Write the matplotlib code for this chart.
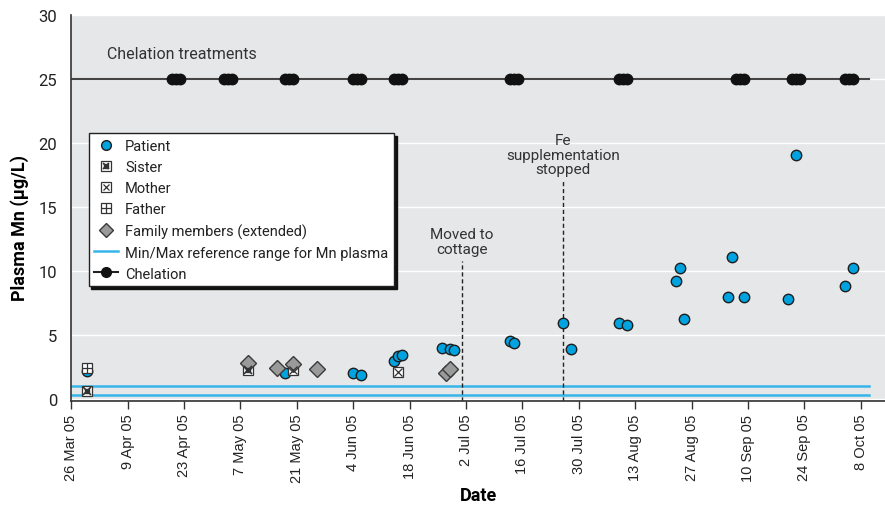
import matplotlib
matplotlib.use("Agg")
import matplotlib.pyplot as plt
import matplotlib.dates as mdates
from matplotlib.lines import Line2D
import pandas as pd

plt.rcParams['font.family'] = ['Roboto', 'DejaVu Sans']

# Patient plasma Mn (ug/L)
patient_dates = ['2005-03-30', '2005-05-18', '2005-06-04', '2005-06-06', '2005-06-14',
                 '2005-06-15', '2005-06-16', '2005-06-26', '2005-06-28', '2005-06-29',
                 '2005-07-13', '2005-07-14', '2005-07-26', '2005-07-28', '2005-08-09',
                 '2005-08-11', '2005-08-23', '2005-08-24', '2005-08-25', '2005-09-05',
                 '2005-09-06', '2005-09-09', '2005-09-20', '2005-09-22', '2005-10-04',
                 '2005-10-06']
patient_vals = [2.2, 2.0, 2.0, 1.9, 3.0, 3.35, 3.4, 3.95, 3.9, 3.8,
                4.55, 4.4, 5.95, 3.9, 5.9, 5.75, 9.2, 10.2, 6.25, 7.95,
                11.1, 7.95, 7.85, 19.1, 8.8, 10.2]

sister_dates = ['2005-03-30', '2005-05-09']
sister_vals = [0.65, 2.3]
mother_dates = ['2005-05-20', '2005-06-15']
mother_vals = [2.3, 2.1]
father_dates = ['2005-03-30']
father_vals = [2.45]
family_dates = ['2005-05-09', '2005-05-16', '2005-05-20', '2005-05-26', '2005-06-27', '2005-06-28']
family_vals = [2.85, 2.45, 2.7, 2.35, 2.05, 2.35]

chelation_dates = ['2005-04-20', '2005-04-21', '2005-04-22', '2005-05-03', '2005-05-04',
                   '2005-05-05', '2005-05-18', '2005-05-19', '2005-05-20', '2005-06-04',
                   '2005-06-05', '2005-06-06', '2005-06-14', '2005-06-15', '2005-06-16',
                   '2005-07-13', '2005-07-14', '2005-07-15', '2005-08-09', '2005-08-10',
                   '2005-08-11', '2005-09-07', '2005-09-08', '2005-09-09', '2005-09-21',
                   '2005-09-22', '2005-09-23', '2005-10-04', '2005-10-05', '2005-10-06']
chelation_level = 25

ref_min, ref_max = 0.3, 1.0
line_span = ['2005-03-26', '2005-10-10']

events = ['2005-07-01', '2005-07-26']
event_labels = ['Moved to\ncottage', 'Fe\nsupplementation\nstopped']
event_tops = [10.8, 17.0]

tick_dates = pd.date_range('2005-03-26', '2005-10-08', freq='14D')

d = lambda s: pd.to_datetime(s)

blue = '#00a3e0'
refblue = '#36b5e8'
edge = '#1e1e1e'

fig = plt.figure(figsize=(8.85, 5.06), dpi=100)
ax = fig.add_axes([0.0805, 0.2055, 0.9195, 0.7627])
ax.set_facecolor('#e6e7e8')

# reference range and chelation line
span = d(line_span)
ax.plot(span, [ref_max] * 2, color=refblue, lw=1.8, zorder=2)
ax.plot(span, [ref_min] * 2, color=refblue, lw=1.8, zorder=2)
ax.plot(span, [chelation_level] * 2, color='#444444', lw=1.5, zorder=2)
ax.plot(d(chelation_dates), [chelation_level] * len(chelation_dates), 'o', color='#111111',
        ms=7.5, mec='#111111', zorder=3)

# event lines
for ev, lab, top in zip(events, event_labels, event_tops):
    ax.plot([d(ev), d(ev)], [-0.16, top], color='#222222', lw=1, ls=(0, (3, 2)), zorder=2)
    ax.text(d(ev), top + 0.4, lab, ha='center', va='bottom', fontsize=11,
            color='#333333', linespacing=1.05)

ax.text(d('2005-04-04'), 27.0, 'Chelation treatments', fontsize=11.5, color='#333333',
        va='center')

# markers
ax.plot(d(patient_dates), patient_vals, 'o', mfc=blue, mec=edge, mew=1, ms=7.5, zorder=4)

sq = dict(marker='s', mfc='white', mec='#333333', mew=0.9, ms=7, ls='none')
ax.plot(d(sister_dates), sister_vals, **sq, zorder=5)
ax.plot(d(sister_dates), sister_vals, 'x', color='#333333', ms=5.5, mew=1.2, zorder=6)
ax.plot(d(sister_dates), sister_vals, 's', color='#333333', ms=2.5, zorder=6)
ax.plot(d(mother_dates), mother_vals, **sq, zorder=5)
ax.plot(d(mother_dates), mother_vals, 'x', color='#333333', ms=5.5, mew=0.9, zorder=6)
ax.plot(d(father_dates), father_vals, **sq, zorder=5)
ax.plot(d(father_dates), father_vals, '+', color='#333333', ms=7, mew=0.9, zorder=6)
ax.plot(d(family_dates), family_vals, 'D', mfc='#9a9a9a', mec='#3a3a3a', mew=1, ms=8,
        zorder=5)

# axes
ax.set_xlim(d('2005-03-26'), d('2005-03-26') + pd.Timedelta(days=202))
ax.set_ylim(-0.16, 30)
ax.set_yticks([0, 5, 10, 15, 20, 25, 30])
ax.yaxis.grid(True, color='white', lw=1)
ax.set_axisbelow(True)
ax.set_xticks(tick_dates)
ax.xaxis.set_major_formatter(plt.FuncFormatter(
    lambda v, p: f"{mdates.num2date(v).day} {mdates.num2date(v):%b %y}"))
for lab in ax.get_xticklabels():
    lab.set_family(['Liberation Sans', 'DejaVu Sans'])
    lab.set_fontsize(10.5)
    lab.set_rotation(90)
ax.tick_params(axis='x', length=6, width=1, color='#333333', pad=3, labelcolor='#222222')
ax.tick_params(axis='y', length=0, pad=10, labelsize=12, labelcolor='#222222')
for s in ['top', 'right']:
    ax.spines[s].set_visible(False)
for s in ['left', 'bottom']:
    ax.spines[s].set_color('#333333')
    ax.spines[s].set_linewidth(1.2)

ax.set_xlabel('Date', fontsize=13, fontweight='bold', labelpad=3)
ax.set_ylabel('Plasma Mn (\u03bcg/L)', fontsize=13, fontweight='bold')
ax.yaxis.set_label_coords(-0.052, 0.45)

# legend
h_patient = Line2D([], [], marker='o', mfc=blue, mec=edge, ms=7, ls='none')
h_sister = (Line2D([], [], **{**sq, 'ms': 6.5}),
            Line2D([], [], marker='x', color='#333333', ms=5, mew=1.2, ls='none'),
            Line2D([], [], marker='s', color='#333333', ms=2.3, ls='none'))
h_mother = (Line2D([], [], **{**sq, 'ms': 6.5}),
            Line2D([], [], marker='x', color='#333333', ms=5, mew=0.9, ls='none'))
h_father = (Line2D([], [], **{**sq, 'ms': 6.5}),
            Line2D([], [], marker='+', color='#333333', ms=6.5, mew=0.9, ls='none'))
h_family = Line2D([], [], marker='D', mfc='#9a9a9a', mec='#3a3a3a', ms=7, ls='none')
h_ref = Line2D([], [], color=refblue, lw=1.8)
h_chel = Line2D([], [], color='#222222', lw=1.5, marker='o', ms=7, mfc='#111111', mec='#111111')

leg = ax.legend([h_patient, h_sister, h_mother, h_father, h_family, h_ref, h_chel],
                ['Patient', 'Sister', 'Mother', 'Father', 'Family members (extended)',
                 'Min/Max reference range for Mn plasma', 'Chelation'],
                loc='upper left', bbox_to_anchor=(0.0213, 0.6935), fontsize=10.5,
                frameon=True, fancybox=False, framealpha=1, edgecolor='#222222',
                handlelength=1.6, handletextpad=0.5, labelspacing=0.48,
                borderpad=0.4, borderaxespad=0,
                shadow={'facecolor': '#111111', 'edgecolor': '#111111', 'alpha': 1})
leg.get_frame().set_linewidth(1)
for t in leg.get_texts():
    t.set_color('#222222')

fig.savefig('out.png', dpi=100)
